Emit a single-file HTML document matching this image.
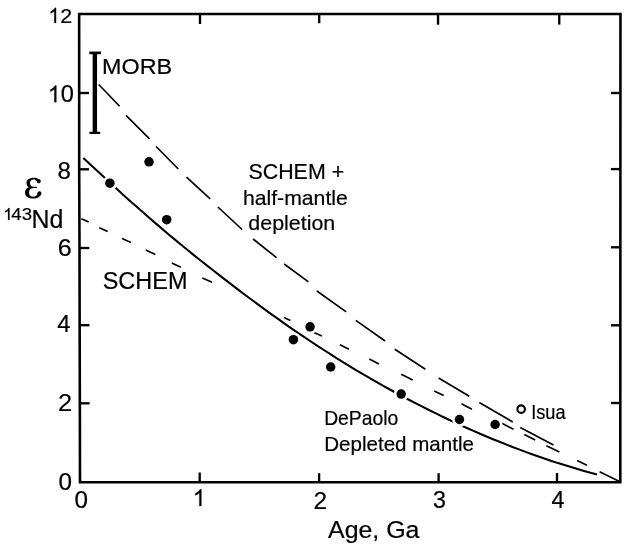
<!DOCTYPE html>
<html><head><meta charset="utf-8"><title>chart</title>
<style>
html,body{margin:0;padding:0;background:#fff;}
body{width:627px;height:549px;overflow:hidden;}
svg{display:block;filter:grayscale(1) blur(0.45px);}
text{font-family:"Liberation Sans",sans-serif;fill:#000;stroke:#000;stroke-width:0.2px;font-kerning:none;}
</style></head><body>
<svg width="627" height="549" viewBox="0 0 627 549">
<rect x="0" y="0" width="627" height="549" fill="#fff"/>
<g fill="none" stroke="#000" stroke-linecap="butt">
<path d="M83.3,158.0 L89.8,163.9 L96.3,170.0 L102.8,176.1 L109.3,182.1 L115.8,188.1 L122.3,194.0 L128.8,199.9 L135.3,205.6 L141.8,211.3 L148.3,217.0 L154.8,222.6 L161.3,228.1 L167.8,233.7 L174.3,239.1 L180.8,244.5 L187.3,249.8 L193.8,255.1 L200.3,260.3 L206.8,265.4 L213.4,270.5 L219.9,275.6 L226.4,280.6 L232.9,285.6 L239.4,290.6 L245.9,295.5 L252.4,300.3 L258.9,305.1 L265.4,309.9 L271.9,314.6 L278.4,319.2 L284.9,323.8 L291.4,328.3 L297.9,332.8 L304.4,337.2 L310.9,341.5 L317.4,345.8 L323.9,350.0 L330.4,354.2 L336.9,358.3 L343.4,362.4 L349.9,366.4 L356.4,370.3 L362.9,374.1 L369.4,377.9 L375.9,381.7 L382.4,385.4 L388.9,389.0 L395.4,392.5 L401.9,396.1 L408.4,399.5 L414.9,402.9 L421.4,406.2 L427.9,409.5 L434.4,412.7 L440.9,415.9 L447.4,419.0 L453.9,422.1 L460.4,425.1 L466.9,428.0 L473.5,430.9 L480.0,433.7 L486.5,436.5 L493.0,439.2 L499.5,441.8 L506.0,444.4 L512.5,447.0 L519.0,449.4 L525.5,451.9 L532.0,454.2 L538.5,456.5 L545.0,458.8 L551.5,460.9 L558.0,463.1 L564.5,465.1 L571.0,467.1 L577.5,469.1 L584.0,471.0 L590.5,472.8 L597.0,474.6" stroke-width="2.05"/>
<line x1="98.7" y1="84.5" x2="119.6" y2="106.2" stroke-width="1.65"/>
<line x1="126" y1="115.4" x2="149.5" y2="138.9" stroke-width="1.65"/>
<line x1="156.1" y1="146.5" x2="178.3" y2="169" stroke-width="1.65"/>
<line x1="186.5" y1="177.1" x2="210.2" y2="198.8" stroke-width="1.65"/>
<line x1="217.9" y1="207" x2="242.1" y2="229.5" stroke-width="1.65"/>
<line x1="253.1" y1="239" x2="276.5" y2="257.6" stroke-width="1.65"/>
<line x1="284.2" y1="264" x2="308.4" y2="281.8" stroke-width="1.65"/>
<line x1="316.9" y1="291" x2="346.2" y2="311.8" stroke-width="1.65"/>
<line x1="355.8" y1="320.4" x2="385.1" y2="341" stroke-width="1.65"/>
<line x1="394.8" y1="349.2" x2="425.4" y2="369.2" stroke-width="1.65"/>
<line x1="438.6" y1="378" x2="469.3" y2="396.3" stroke-width="1.65"/>
<line x1="479.3" y1="402.5" x2="512.8" y2="422" stroke-width="1.65"/>
<line x1="520.3" y1="427.6" x2="553.5" y2="445.0" stroke-width="1.65"/>
<line x1="81.4" y1="218.7" x2="88.7" y2="222" stroke-width="1.65"/>
<line x1="99.3" y1="227.7" x2="107.7" y2="231.5" stroke-width="1.65"/>
<line x1="122.1" y1="238.4" x2="131" y2="242.4" stroke-width="1.65"/>
<line x1="145.8" y1="250.1" x2="155.3" y2="254.4" stroke-width="1.65"/>
<line x1="171.8" y1="262.9" x2="180.8" y2="267.2" stroke-width="1.65"/>
<line x1="202.4" y1="278" x2="212" y2="282.2" stroke-width="1.65"/>
<line x1="284" y1="317.4" x2="290.4" y2="320.4" stroke-width="1.65"/>
<line x1="313.9" y1="332.5" x2="322" y2="336" stroke-width="1.65"/>
<line x1="339.9" y1="344.8" x2="348.9" y2="349.2" stroke-width="1.65"/>
<line x1="369.3" y1="358.9" x2="379" y2="364" stroke-width="1.65"/>
<line x1="401.2" y1="374.2" x2="412.7" y2="380" stroke-width="1.65"/>
<line x1="434.2" y1="391" x2="443.7" y2="395.5" stroke-width="1.65"/>
<line x1="461.5" y1="403.7" x2="471.9" y2="409.2" stroke-width="1.65"/>
<line x1="501.8" y1="423.3" x2="513.5" y2="429.3" stroke-width="1.65"/>
<line x1="524.3" y1="434.5" x2="535.2" y2="440.1" stroke-width="1.65"/>
<line x1="546.4" y1="445.7" x2="559.4" y2="451.9" stroke-width="1.65"/>
<line x1="577.2" y1="460.6" x2="586.9" y2="465.3" stroke-width="1.65"/>
<line x1="599.6" y1="471.8" x2="620" y2="481.7" stroke-width="1.65"/>
</g>
<circle cx="109.9" cy="183.2" r="7.4" fill="#fff"/>
<circle cx="149" cy="161.8" r="7.4" fill="#fff"/>
<circle cx="166.7" cy="219.7" r="7.4" fill="#fff"/>
<circle cx="293.4" cy="339.7" r="7.4" fill="#fff"/>
<circle cx="310.1" cy="326.8" r="7.4" fill="#fff"/>
<circle cx="330.7" cy="367.0" r="7.4" fill="#fff"/>
<circle cx="401.2" cy="394.1" r="7.4" fill="#fff"/>
<circle cx="459.5" cy="419.5" r="7.4" fill="#fff"/>
<circle cx="495.1" cy="424.5" r="7.4" fill="#fff"/>
<circle cx="109.9" cy="183.2" r="4.75" fill="#000"/>
<circle cx="149" cy="161.8" r="4.75" fill="#000"/>
<circle cx="166.7" cy="219.7" r="4.75" fill="#000"/>
<circle cx="293.4" cy="339.7" r="4.75" fill="#000"/>
<circle cx="310.1" cy="326.8" r="4.75" fill="#000"/>
<circle cx="330.7" cy="367.0" r="4.75" fill="#000"/>
<circle cx="401.2" cy="394.1" r="4.75" fill="#000"/>
<circle cx="459.5" cy="419.5" r="4.75" fill="#000"/>
<circle cx="495.1" cy="424.5" r="4.75" fill="#000"/>
<circle cx="521.15" cy="409.15" r="3.75" fill="#fff" stroke="#000" stroke-width="2.1"/>
<path d="M79.15,14.05 L620.45,14.05 L620.3,482.2 L80.0,482.2 L79.85,403 L79.65,325 L79.5,248 L79.2,170 L79.15,14.05 Z" fill="none" stroke="#000" stroke-width="2.6" stroke-linejoin="miter"/>
<g stroke="#000" stroke-width="2.35">
<line x1="200.0" y1="14.05" x2="200.0" y2="24.0"/>
<line x1="319.2" y1="14.05" x2="319.2" y2="23.2"/>
<line x1="438.05" y1="14.05" x2="438.05" y2="24.7"/>
<line x1="559.25" y1="14.05" x2="559.25" y2="24.6"/>
<line x1="199.7" y1="482.2" x2="199.7" y2="472.5"/>
<line x1="319.1" y1="482.2" x2="319.1" y2="473.2"/>
<line x1="438.6" y1="482.2" x2="438.6" y2="473.2"/>
<line x1="557.0" y1="482.2" x2="557.0" y2="473.0"/>
<line x1="79.18" y1="93.0" x2="88.98" y2="93.0"/>
<line x1="79.20" y1="169.3" x2="89.00" y2="169.3"/>
<line x1="79.50" y1="248.0" x2="89.30" y2="248.0"/>
<line x1="79.65" y1="325.2" x2="89.45" y2="325.2"/>
<line x1="79.85" y1="403.3" x2="89.65" y2="403.3"/>
<line x1="620.45" y1="93.0" x2="610.95" y2="93.0"/>
<line x1="620.45" y1="169.1" x2="610.95" y2="169.1"/>
<line x1="620.45" y1="247.3" x2="610.95" y2="247.3"/>
<line x1="620.45" y1="325.3" x2="610.95" y2="325.3"/>
<line x1="620.45" y1="403.0" x2="610.95" y2="403.0"/>
</g>
<g stroke="#000">
<line x1="94.85" y1="52.9" x2="94.85" y2="132.9" stroke-width="4.4"/>
<line x1="89.35" y1="52.9" x2="101.0" y2="52.9" stroke-width="2.7"/>
<line x1="89.45" y1="132.9" x2="100.2" y2="132.9" stroke-width="2.25"/>
</g>
<path d="M763,0 H583 V1147 Q518,1085 412.5,1023 Q307,961 223,930 V1104 Q374,1175 487,1276 Q600,1377 647,1472 H763 Z" transform="translate(48.31,22.90) scale(0.01021,-0.01021)" fill="#000" stroke="#000" stroke-width="19.6"/>
<text x="60.32" y="22.90" font-size="20.9" textLength="11.96" lengthAdjust="spacingAndGlyphs" stroke-width="0.2" >2</text>
<path d="M763,0 H583 V1147 Q518,1085 412.5,1023 Q307,961 223,930 V1104 Q374,1175 487,1276 Q600,1377 647,1472 H763 Z" transform="translate(47.68,102.30) scale(0.01143,-0.01143)" fill="#000" stroke="#000" stroke-width="17.5"/>
<text x="60.68" y="102.30" font-size="23.4" textLength="13.15" lengthAdjust="spacingAndGlyphs" stroke-width="0.2" >0</text>
<text x="57.55" y="179.00" font-size="23.4" textLength="13.39" lengthAdjust="spacingAndGlyphs" stroke-width="0.2" >8</text>
<text x="57.82" y="255.50" font-size="23.4" textLength="13.98" lengthAdjust="spacingAndGlyphs" stroke-width="0.2" >6</text>
<text x="57.26" y="332.30" font-size="23.4" textLength="13.13" lengthAdjust="spacingAndGlyphs" stroke-width="0.2" >4</text>
<text x="58.12" y="411.30" font-size="23.4" textLength="14.16" lengthAdjust="spacingAndGlyphs" stroke-width="0.2" >2</text>
<text x="58.45" y="489.80" font-size="23.4" textLength="13.50" lengthAdjust="spacingAndGlyphs" stroke-width="0.2" >0</text>
<text x="74.45" y="507.90" font-size="23.4" textLength="13.50" lengthAdjust="spacingAndGlyphs" stroke-width="0.2" >0</text>
<path d="M763,0 H583 V1147 Q518,1085 412.5,1023 Q307,961 223,930 V1104 Q374,1175 487,1276 Q600,1377 647,1472 H763 Z" transform="translate(192.68,506.10) scale(0.01143,-0.01143)" fill="#000" stroke="#000" stroke-width="17.5"/>
<text x="313.62" y="509.10" font-size="23.4" textLength="13.61" lengthAdjust="spacingAndGlyphs" stroke-width="0.2" >2</text>
<text x="433.02" y="508.00" font-size="23.4" textLength="12.90" lengthAdjust="spacingAndGlyphs" stroke-width="0.2" >3</text>
<text x="551.46" y="507.60" font-size="23.4" textLength="13.02" lengthAdjust="spacingAndGlyphs" stroke-width="0.2" >4</text>
<text x="328.02" y="537.50" font-size="24.3" textLength="91.41" lengthAdjust="spacingAndGlyphs" stroke-width="0.34" >Age, Ga</text>
<text x="102.03" y="73.60" font-size="22.7" textLength="70.05" lengthAdjust="spacingAndGlyphs" stroke-width="0.3" >MORB</text>
<text x="102.69" y="288.90" font-size="23.0" textLength="84.77" lengthAdjust="spacingAndGlyphs" stroke-width="0.32" >SCHEM</text>
<text x="248.48" y="178.60" font-size="22.4" textLength="95.68" lengthAdjust="spacingAndGlyphs" stroke-width="0.3" >SCHEM +</text>
<text x="242.93" y="204.70" font-size="20.8" textLength="104.86" lengthAdjust="spacingAndGlyphs" stroke-width="0.3" >half-mantle</text>
<text x="248.35" y="230.00" font-size="21.0" textLength="86.89" lengthAdjust="spacingAndGlyphs" stroke-width="0.3" >depletion</text>
<text x="324.14" y="425.00" font-size="20.4" textLength="74.15" lengthAdjust="spacingAndGlyphs" stroke-width="0.45" >DePaolo</text>
<text x="324.19" y="450.60" font-size="20.4" textLength="149.75" lengthAdjust="spacingAndGlyphs" stroke-width="0.45" >Depleted mantle</text>
<text x="531.22" y="418.70" font-size="19.3" textLength="34.38" lengthAdjust="spacingAndGlyphs" stroke-width="0.4" >Isua</text>
<path d="M 33.94,177.65 C 36.17,177.65 37.12,178.16 38.27,178.92 C 39.67,178.80 40.76,179.69 40.76,181.16 C 40.76,182.43 39.86,183.20 38.78,183.20 C 37.63,183.20 37.00,182.43 36.87,181.47 C 36.17,180.20 35.21,179.56 33.62,179.56 C 31.39,179.56 29.98,180.96 29.98,182.88 C 29.98,184.98 31.39,186.57 33.62,186.70 L 36.93,186.70 L 36.93,187.98 L 33.30,187.98 C 30.75,188.17 28.96,189.89 28.96,192.44 C 28.96,194.99 30.75,196.65 33.43,196.65 C 35.21,196.65 36.49,195.82 37.25,194.54 C 37.12,192.31 38.08,191.16 39.48,191.16 C 40.63,191.16 41.46,192.06 41.46,193.20 C 41.46,194.54 40.63,195.50 39.67,196.14 C 38.08,197.73 36.17,198.49 33.62,198.49 C 28.52,198.49 25.01,196.14 25.01,192.63 C 25.01,190.08 26.61,188.17 28.52,187.34 C 27.24,186.25 26.48,184.53 26.48,182.62 C 26.48,179.56 29.79,177.65 33.94,177.65 Z" fill="#000"/>
<text x="31.61" y="227.80" font-size="25.0" textLength="31.85" lengthAdjust="spacingAndGlyphs" stroke-width="0.3" >Nd</text>
<path d="M763,0 H583 V1147 Q518,1085 412.5,1023 Q307,961 223,930 V1104 Q374,1175 487,1276 Q600,1377 647,1472 H763 Z" transform="translate(3.32,220.00) scale(0.00811,-0.00811)" fill="#000" stroke="#000" stroke-width="24.7"/>
<text x="11.37" y="220.00" font-size="16.6" textLength="20.64" lengthAdjust="spacingAndGlyphs" stroke-width="0.2" >43</text>
</svg></body></html>
